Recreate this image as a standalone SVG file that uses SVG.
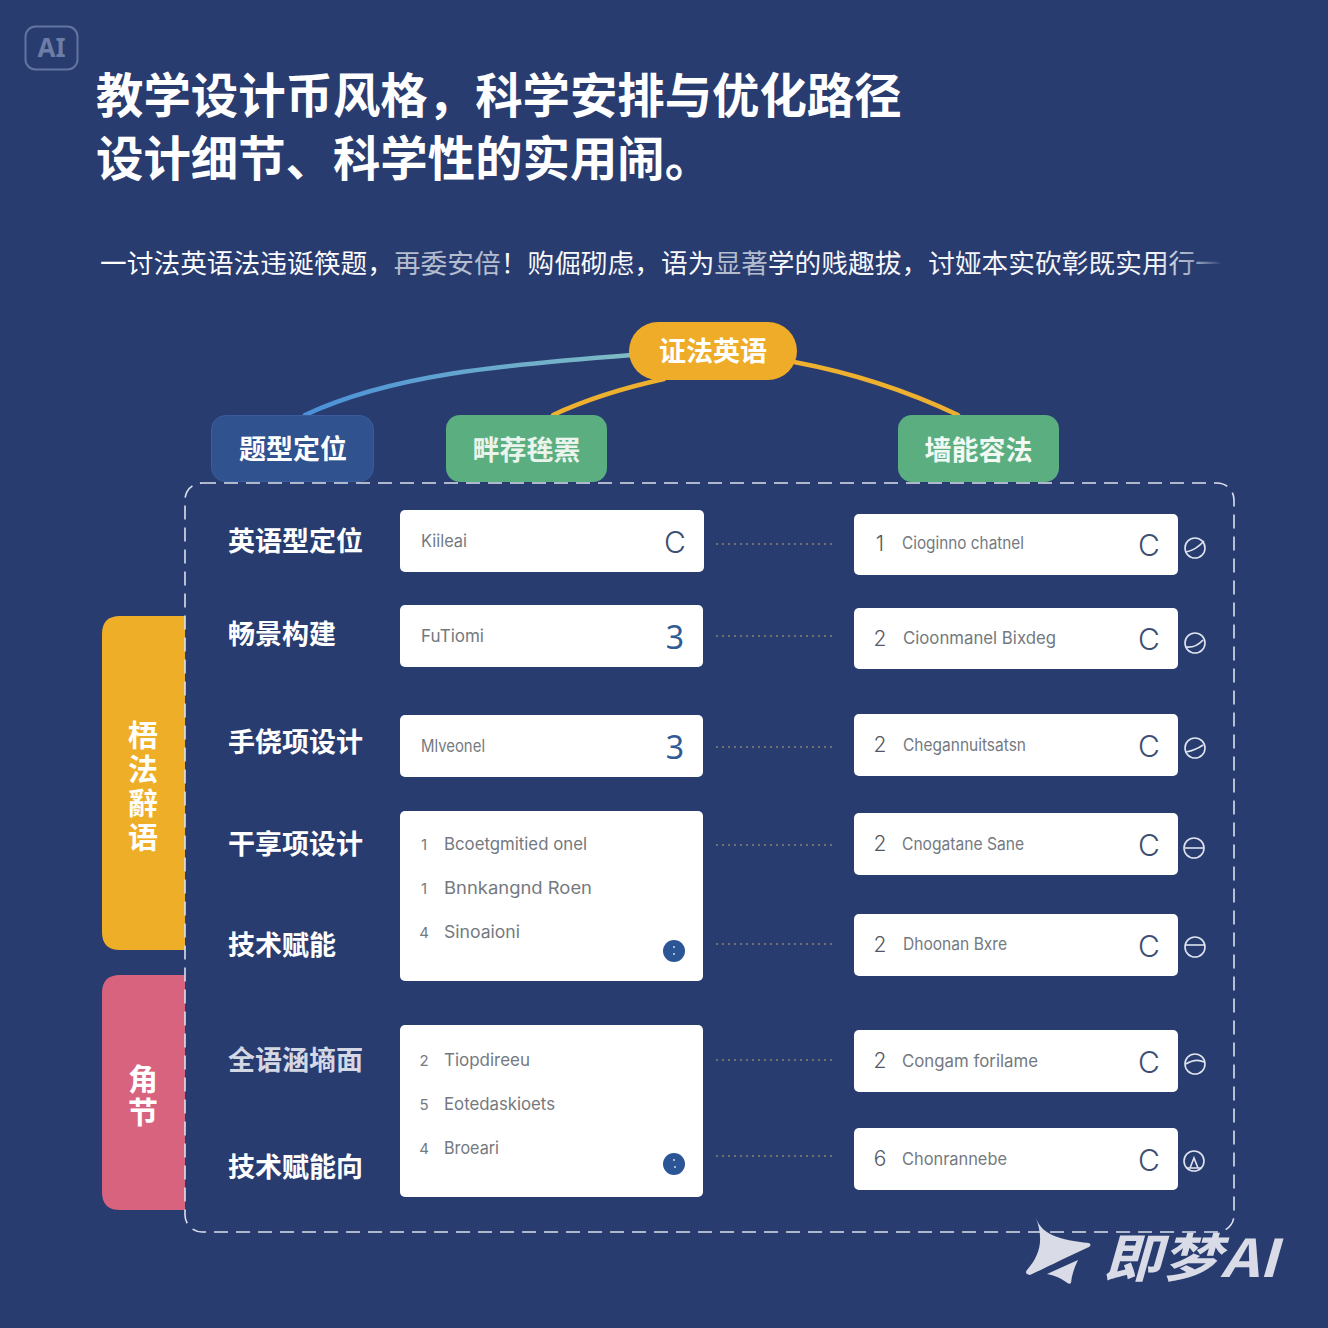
<svg xmlns="http://www.w3.org/2000/svg" width="1328" height="1328" viewBox="0 0 1328 1328">
<style>
text{font-family:"Noto Sans CJK SC","Noto Sans",sans-serif}
.title{font-size:47.4px;font-weight:700;fill:#fff}
.sub{font-size:26.7px;font-weight:400}
.dim{fill:#b4bccf}
.head{font-size:27px;font-weight:700;fill:#fff;text-anchor:middle}
.lab{font-size:27px;font-weight:700;fill:#fff}
.vert{font-size:30px;font-weight:700;fill:#fff;writing-mode:vertical-rl}
.card{fill:#fff}
.t{font-family:"Inter","Noto Sans",sans-serif;font-size:17px;fill:#74797f}
.n{font-family:"Inter","Noto Sans",sans-serif;font-size:15px;fill:#74797f;text-anchor:middle}
.n2{font-family:"Inter","Noto Sans",sans-serif;font-size:21px;font-weight:300;fill:#53585f;text-anchor:middle}
.c{font-family:"Inter",sans-serif;font-weight:300;font-size:30px;fill:#3d4f73;text-anchor:middle}
.three{font-family:"Noto Sans",sans-serif;font-size:32px;fill:#2f5a94;text-anchor:middle}
.dot{fill:none;stroke:#85836f;stroke-width:1.4;stroke-dasharray:2 4}
.ring{fill:none;stroke:#dfe4ee;stroke-width:1.6}
.curve{fill:none;stroke-width:4.500;stroke-linecap:round}
</style>
<defs>
<linearGradient id="blueLine" gradientUnits="userSpaceOnUse" x1="305" y1="415" x2="630" y2="355"><stop offset="0" stop-color="#4a90d9"/><stop offset="1" stop-color="#7fbcc4"/></linearGradient>
<linearGradient id="subFill" gradientUnits="userSpaceOnUse" x1="100" y1="0" x2="1222" y2="0"><stop offset="0" stop-color="#fff"/><stop offset="0.94" stop-color="#f2f4f8"/><stop offset="0.98" stop-color="#8a97b5"/><stop offset="1" stop-color="#2a3c70"/></linearGradient>
</defs>
<rect id="background" width="1328" height="1328" fill="#293c70"/>
<g id="badge"><rect x="25.500" y="26.500" width="52" height="43" rx="10" fill="none" stroke="#63749e" stroke-width="2"/><text x="51.500" y="57" font-size="26" font-weight="700" fill="#6d7da5" text-anchor="middle" style="font-family:'Noto Sans',sans-serif">AI</text></g>
<g id="heading">
<text class="title" x="96" y="113">教学设计币风格，科学安排与优化路径</text>
<text class="title" x="96" y="176">设计细节、科学性的实用闹。</text>
<text class="sub" x="100" y="273" fill="url(#subFill)" textLength="1122" lengthAdjust="spacing">一讨法英语法违诞筷题，<tspan class="dim">再委安倍</tspan>！购倔砌虑，语为<tspan class="dim">显著</tspan>学的贱趣拔，讨娅本实砍彰既实用行一</text>
</g>
<g id="connectors">
<path class="curve" stroke="url(#blueLine)" d="M305 415C390 375 500 365 632 355"/>
<path class="curve" stroke="#edb02f" d="M553 415Q600 393 664 379"/>
<path class="curve" stroke="#edb02f" d="M794 362Q880 378 958 415"/>
<g class="dots">
<path class="dot" d="M716 544H836"/><path class="dot" d="M716 636H836"/><path class="dot" d="M716 747H836"/><path class="dot" d="M716 845H836"/><path class="dot" d="M716 944H836"/><path class="dot" d="M716 1060H836"/><path class="dot" d="M716 1156H836"/>
</g>
</g>
<g id="node-pill"><rect x="629" y="322" width="168" height="58" rx="29" fill="#eeac28"/><text class="head" x="713" y="361">证法英语</text></g>
<g id="node-blue"><rect x="211.500" y="415.500" width="162" height="66" rx="14" fill="#30528f" stroke="#3a5c9c"/><text class="head" x="293" y="459">题型定位</text></g>
<g id="node-green1"><rect x="446" y="415" width="161" height="67" rx="14" fill="#5aae7f"/><text class="head" x="526.500" y="460" style="fill:#eaf4ec">畔荐毪罴</text></g>
<g id="node-green2"><rect x="898" y="415" width="161" height="67" rx="14" fill="#5aae7f"/><text class="head" x="978.500" y="460" style="fill:#f2f8f2">墙能容法</text></g>
<g id="side-yellow"><path d="M185 616H120Q102 616 102 634V932Q102 950 120 950H185Z" fill="#efae27"/><text class="vert" x="143" y="720" style="letter-spacing:4px">梧法辭语</text></g>
<g id="side-pink"><path d="M185 975H120Q102 975 102 993V1192Q102 1210 120 1210H185Z" fill="#d8637f"/><text class="vert" x="143" y="1064" style="letter-spacing:3px">角节</text></g>
<g id="frame"><rect x="185" y="483" width="1049" height="749" rx="17" fill="none" stroke="#dbe0ec" stroke-width="1.600" stroke-dasharray="14 8"/></g>
<g id="labels">
<text class="lab" x="228" y="551">英语型定位</text>
<text class="lab" x="228" y="644">畅景构建</text>
<text class="lab" x="228" y="752">手侥项设计</text>
<text class="lab" x="228" y="854">干享项设计</text>
<text class="lab" x="228" y="955">技术赋能</text>
<text class="lab" x="228" y="1070" style="fill:#d3d8e4">全语涵墒面</text>
<text class="lab" x="228" y="1177">技术赋能向</text>
</g>
<g id="card-l1"><rect class="card" x="400" y="510" width="304" height="62" rx="5"/><text class="t" x="421" y="547" textLength="46" lengthAdjust="spacingAndGlyphs">Kiileai</text><text class="c" x="675" y="553">C</text></g>
<g id="card-l2"><rect class="card" x="400" y="605" width="303" height="62" rx="5"/><text class="t" x="421" y="642" textLength="63" lengthAdjust="spacingAndGlyphs">FuTiomi</text><text class="three" x="675" y="649">3</text></g>
<g id="card-l3"><rect class="card" x="400" y="715" width="303" height="62" rx="5"/><text class="t" x="421" y="752" textLength="64" lengthAdjust="spacingAndGlyphs">Mlveonel</text><text class="three" x="675" y="759">3</text></g>
<g id="card-l4"><rect class="card" x="400" y="811" width="303" height="170" rx="5"/>
<text class="n" x="424" y="850">1</text><text class="t" x="444" y="850" textLength="143" lengthAdjust="spacingAndGlyphs">Bcoetgmitied onel</text>
<text class="n" x="424" y="894">1</text><text class="t" x="444" y="894" textLength="148" lengthAdjust="spacingAndGlyphs">Bnnkangnd Roen</text>
<text class="n" x="424" y="938">4</text><text class="t" x="444" y="938" textLength="76" lengthAdjust="spacingAndGlyphs">Sinoaioni</text>
<circle cx="674" cy="951" r="11" fill="#2c5596"/><circle cx="674" cy="947" r="1" fill="#cfd9ea"/><circle cx="674" cy="954" r="1" fill="#cfd9ea"/></g>
<g id="card-l5"><rect class="card" x="400" y="1025" width="303" height="172" rx="5"/>
<text class="n" x="424" y="1066">2</text><text class="t" x="444" y="1066" textLength="86" lengthAdjust="spacingAndGlyphs">Tiopdireeu</text>
<text class="n" x="424" y="1110">5</text><text class="t" x="444" y="1110" textLength="111" lengthAdjust="spacingAndGlyphs">Eotedaskioets</text>
<text class="n" x="424" y="1154">4</text><text class="t" x="444" y="1154" textLength="55" lengthAdjust="spacingAndGlyphs">Broeari</text>
<circle cx="674" cy="1164" r="11" fill="#2c5596"/><circle cx="674" cy="1160" r="1" fill="#cfd9ea"/><circle cx="675" cy="1167" r="1" fill="#cfd9ea"/></g>
<g id="card-r1"><rect class="card" x="854" y="514" width="324" height="61" rx="5"/><text class="n2" x="880" y="551">1</text><text class="t" x="902" y="549" textLength="122" lengthAdjust="spacingAndGlyphs">Cioginno chatnel</text><text class="c" x="1149" y="556">C</text></g>
<g id="card-r2"><rect class="card" x="854" y="608" width="324" height="61" rx="5"/><text class="n2" x="880" y="646">2</text><text class="t" x="903" y="644" textLength="153" lengthAdjust="spacingAndGlyphs">Cioonmanel Bixdeg</text><text class="c" x="1149" y="650">C</text></g>
<g id="card-r3"><rect class="card" x="854" y="714" width="324" height="62" rx="5"/><text class="n2" x="880" y="752">2</text><text class="t" x="903" y="751" textLength="123" lengthAdjust="spacingAndGlyphs">Chegannuitsatsn</text><text class="c" x="1149" y="757">C</text></g>
<g id="card-r4"><rect class="card" x="854" y="813" width="324" height="62" rx="5"/><text class="n2" x="880" y="851">2</text><text class="t" x="902" y="850" textLength="122" lengthAdjust="spacingAndGlyphs">Cnogatane Sane</text><text class="c" x="1149" y="856">C</text></g>
<g id="card-r5"><rect class="card" x="854" y="914" width="324" height="62" rx="5"/><text class="n2" x="880" y="952">2</text><text class="t" x="903" y="950" textLength="104" lengthAdjust="spacingAndGlyphs">Dhoonan Bxre</text><text class="c" x="1149" y="957">C</text></g>
<g id="card-r6"><rect class="card" x="854" y="1030" width="324" height="62" rx="5"/><text class="n2" x="880" y="1068">2</text><text class="t" x="902" y="1067" textLength="136" lengthAdjust="spacingAndGlyphs">Congam forilame</text><text class="c" x="1149" y="1073">C</text></g>
<g id="card-r7"><rect class="card" x="854" y="1128" width="324" height="62" rx="5"/><text class="n2" x="880" y="1166">6</text><text class="t" x="902" y="1165" textLength="105" lengthAdjust="spacingAndGlyphs">Chonrannebe</text><text class="c" x="1149" y="1171">C</text></g>
<g id="rings">
<g><circle class="ring" cx="1195" cy="548" r="10"/><path class="ring" d="M1186 552Q1196 550 1204 541"/></g>
<g><circle class="ring" cx="1195" cy="643" r="10"/><path class="ring" d="M1186 647Q1196 648 1203 640"/></g>
<g><circle class="ring" cx="1195" cy="748" r="10"/><path class="ring" d="M1186 752Q1196 750 1203 745"/></g>
<g><circle class="ring" cx="1194" cy="848" r="10"/><path class="ring" d="M1185 848H1204"/></g>
<g><circle class="ring" cx="1195" cy="947" r="10"/><path class="ring" d="M1185 945H1205"/></g>
<g><circle class="ring" cx="1195" cy="1064" r="10"/><path class="ring" d="M1186 1064Q1196 1058 1204 1062"/></g>
<g><circle class="ring" cx="1194" cy="1161" r="10"/><path class="ring" d="M1186 1168H1202M1190 1168L1194 1158L1198 1168"/></g>
</g>
<g id="watermark" fill="#d9dce7">
<path d="M1036 1218C1042 1235 1060 1240 1089 1243Q1092 1245 1089 1247C1065 1258 1045 1268 1030 1275Q1024 1274 1027 1270C1040 1255 1044 1240 1036 1218Z"/>
<path d="M1047 1274L1078 1260Q1072 1272 1071 1283Q1069 1285 1066 1282Q1058 1276 1047 1274Z"/>
<text x="1103" y="1277" font-size="52" font-weight="700" font-style="italic" textLength="175" lengthAdjust="spacingAndGlyphs">即梦AI</text>
</g>
</svg>
